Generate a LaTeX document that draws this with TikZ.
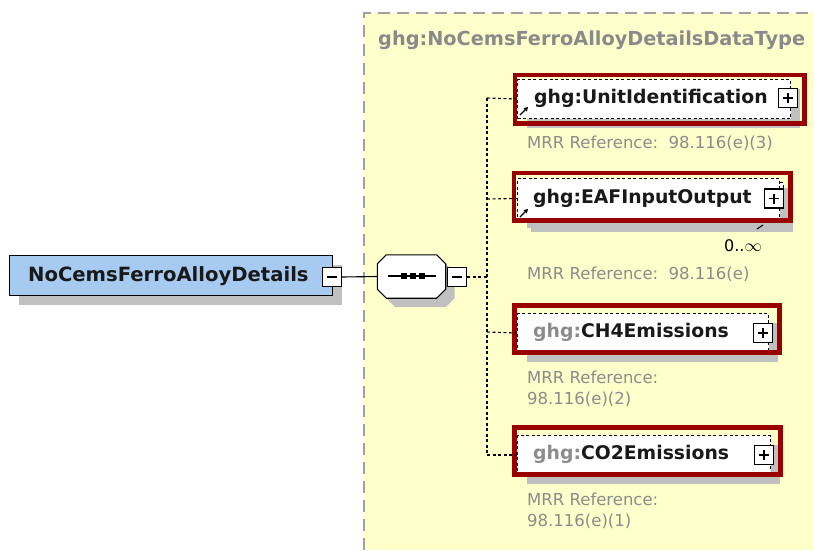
\documentclass[tikz,border=0pt]{standalone}
\usepackage{fontspec}
\setmainfont{DejaVu Sans}
\usetikzlibrary{shadows,arrows.meta}
\definecolor{panel}{HTML}{FFFFCC}
\definecolor{panelline}{HTML}{A0A0A0}
\definecolor{boxblue}{HTML}{A6CAF0}
\definecolor{hlred}{HTML}{990000}
\definecolor{shadegray}{HTML}{C0C0C0}
\definecolor{greytext}{HTML}{8C8C8C}
\definecolor{titletext}{HTML}{8A8A8A}
\tikzset{
  shad/.style={drop shadow={shadow xshift=9pt, shadow yshift=-9pt, fill=shadegray, opacity=1}},
  mainbox/.style={draw=black, line width=1pt, fill=boxblue, minimum width=323pt, minimum height=40pt, inner sep=0pt, shad},
  pmbox/.style={draw=black, line width=1.1pt, fill=white, minimum width=19pt, minimum height=19pt, inner sep=0pt},
  seqbox/.style={draw=none, minimum width=68pt, minimum height=43pt, inner sep=0pt},
  childbox/.style={draw=black, dash pattern=on 3pt off 2.5pt, line width=1pt, fill=white, inner sep=0pt, anchor=north west, shad},
  hlframe/.style={draw=hlred, line width=4.8pt},
  ctext/.style={anchor=west, inner sep=0pt, font=\fontsize{18.8}{22}\selectfont\bfseries, text=black!90},
  reftext/.style={anchor=west, inner sep=0pt, font=\fontsize{16.5}{21}\selectfont, text=greytext, align=left},
  conn/.style={draw=black, line width=1.1pt},
  dconn/.style={draw=black, line width=1.1pt, dash pattern=on 3pt off 2.5pt},
  refarrow/.style={-{Triangle[length=4pt,width=4.5pt]}, line width=1.3pt, black},
}
\begin{document}
\begin{tikzpicture}[x=1pt,y=-1pt]
\useasboundingbox (0,0) rectangle (814,550);
% panel
\fill[panel] (364,13) rectangle (814,550);
\draw[panelline, line width=1.2pt, dash pattern=on 12pt off 7pt] (364,550) -- (364,13) -- (814,13);
\node[anchor=west, inner sep=0pt, font=\fontsize{19.3}{22}\selectfont\bfseries, text=titletext] (title) at (378,40) {ghg:NoCemsFerroAlloyDetailsDataType};

% main element
\node[mainbox, anchor=north west] (main) at (9,255) {};
\node[anchor=west, inner sep=0pt, font=\fontsize{19.6}{22}\selectfont\bfseries, text=black!90] (maintext) at (28,276) {NoCemsFerroAlloyDetails};
\node[pmbox] (m1) at (332,277) {};
\draw[conn] ([xshift=-5pt]m1.center) -- ([xshift=5pt]m1.center);

% sequence (octagon)
\node[seqbox] (seq) at (411.5,276.5) {};
\fill[shadegray, transform canvas={xshift=9pt, yshift=-9pt}] ([xshift=9pt]seq.north west) -- ([xshift=-9pt]seq.north east) -- ([yshift=-9pt]seq.north east) -- ([yshift=9pt]seq.south east) -- ([xshift=-9pt]seq.south east) -- ([xshift=9pt]seq.south west) -- ([yshift=9pt]seq.south west) -- ([yshift=-9pt]seq.north west) -- cycle;
\filldraw[fill=white, draw=black, line width=1.1pt] ([xshift=9pt]seq.north west) -- ([xshift=-9pt]seq.north east) -- ([yshift=-9pt]seq.north east) -- ([yshift=9pt]seq.south east) -- ([xshift=-9pt]seq.south east) -- ([xshift=9pt]seq.south west) -- ([yshift=9pt]seq.south west) -- ([yshift=-9pt]seq.north west) -- cycle;
\coordinate (sl) at (388,276);
\coordinate (sr) at (436,276);
\draw[conn] (sl) -- (sr);
\foreach \xx in {404,413,422} \fill[black] (\xx-3,273) rectangle (\xx+3,279);
\node[pmbox] (m2) at (457,277) {};
\draw[conn] ([xshift=-5pt]m2.center) -- ([xshift=5pt]m2.center);
\draw[conn] (m1.east) -- (seq.west);
\coordinate (j) at (487,277);
\coordinate (j1) at (487,98);
\coordinate (j2) at (487,199);
\coordinate (j3) at (487,332);
\coordinate (j4) at (487,455);
\draw[dconn] (m2.east) -- (j);
\draw[dconn] (j1) -- (j4);

% child 1
\node[childbox, minimum width=273pt, minimum height=39pt] (c1) at (517,79) {};
\node[ctext] (t1) at (534,98) {ghg:UnitIdentification};
\node[pmbox] (p1) at (788,98) {};
\draw[conn] ([xshift=-5pt]p1.center) -- ([xshift=5pt]p1.center) ([yshift=-5pt]p1.center) -- ([yshift=5pt]p1.center);
\draw[refarrow] (520,115) -- (528,107);
\draw[hlframe] (515,75) rectangle (804.5,123.5);
\draw[dconn] (j1) -- (c1.west);
\node[reftext] (r1) at (527,143) {MRR Reference:\ \ 98.116(e)(3)};

% child 2 (repeating)
\node[childbox, minimum width=262pt, minimum height=40pt] (c2b) at (521,182) {};
\node[childbox, minimum width=262pt, minimum height=40pt] (c2) at (517,178) {};
\node[ctext] (t2) at (533,198) {ghg:EAFInputOutput};
\node[pmbox] (p2) at (774,198.5) {};
\draw[conn] ([xshift=-5pt]p2.center) -- ([xshift=5pt]p2.center) ([yshift=-5pt]p2.center) -- ([yshift=5pt]p2.center);
\draw[refarrow] (520,217) -- (528,209);
\draw[hlframe] (514,173) rectangle (790.5,220.5);
\draw[dconn] (j2) -- (c2.west);
\draw[line width=1pt] (757,229) -- (763,225);
\node[anchor=west, inner sep=0pt, font=\fontsize{16}{18}\selectfont, text=black] (occ) at (724,246) {0..$\infty$};
\node[reftext] (r2) at (527,274) {MRR Reference:\ \ 98.116(e)};

% child 3
\node[childbox, minimum width=251pt, minimum height=39pt] (c3) at (517,313) {};
\node[ctext] (t3) at (533,332) {\textcolor{greytext}{ghg:}CH4Emissions};
\node[pmbox] (p3) at (763,333) {};
\draw[conn] ([xshift=-5pt]p3.center) -- ([xshift=5pt]p3.center) ([yshift=-5pt]p3.center) -- ([yshift=5pt]p3.center);
\draw[hlframe] (514.5,305.5) rectangle (779.5,352.5);
\draw[dconn] (j3) -- (c3.west);
\node[reftext] (r3) at (527,389) {MRR Reference:\\98.116(e)(2)};

% child 4
\node[childbox, minimum width=253pt, minimum height=39pt] (c4) at (517,435) {};
\node[ctext] (t4) at (533,454) {\textcolor{greytext}{ghg:}CO2Emissions};
\node[pmbox] (p4) at (764,455) {};
\draw[conn] ([xshift=-5pt]p4.center) -- ([xshift=5pt]p4.center) ([yshift=-5pt]p4.center) -- ([yshift=5pt]p4.center);
\draw[hlframe] (514.5,427.5) rectangle (780.5,474.5);
\draw[dconn] (j4) -- (c4.west);
\node[reftext] (r4) at (527,511) {MRR Reference:\\98.116(e)(1)};
\end{tikzpicture}
\end{document}
